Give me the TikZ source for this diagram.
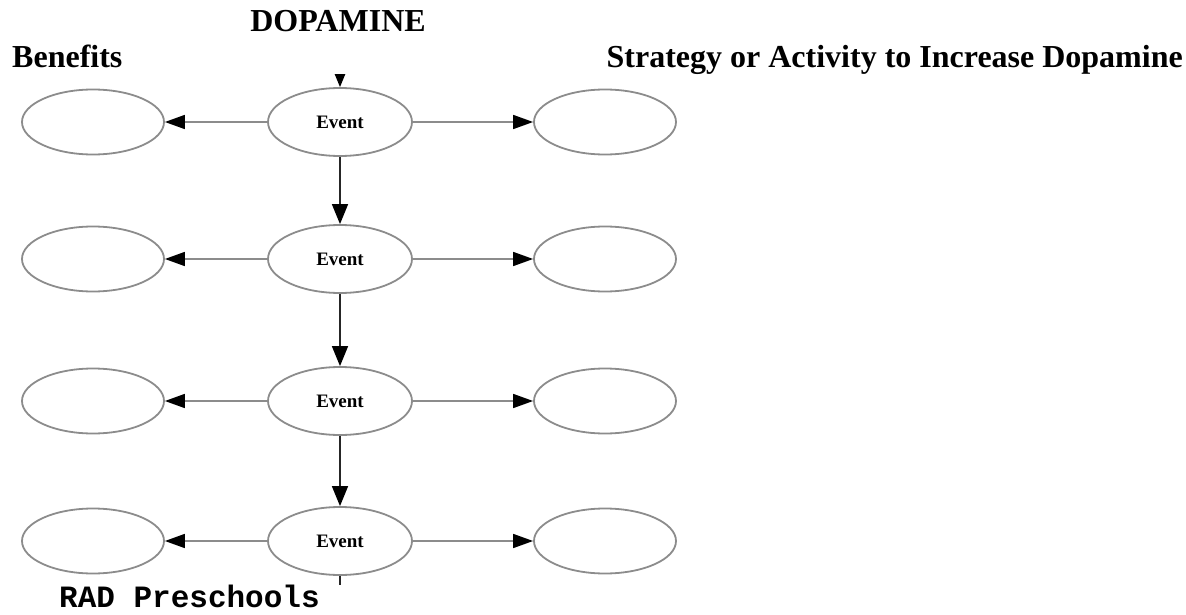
\documentclass[tikz,border=0pt]{standalone}
\usepackage{fontspec}
\setmainfont{Liberation Serif}
\setmonofont{Liberation Mono}
\usetikzlibrary{arrows.meta,shapes.geometric}

\begin{document}
\begin{tikzpicture}[x=1pt,y=-1pt,
	oval/.style={ellipse,draw=black!45,line width=1.8pt,fill=white,minimum width=142pt,minimum height=65pt,inner sep=0pt},
	event/.style={oval,minimum width=144pt,minimum height=68pt,font=\fontsize{19}{19}\selectfont\bfseries},
	side/.style={draw=black!45,line width=1.6pt,-{Triangle[length=20pt,width=14pt,color=black]}},
	down/.style={draw=black!85,line width=1.6pt,-{Triangle[length=20pt,width=16pt,color=black]}},
	head/.style={font=\fontsize{32}{32}\selectfont\bfseries,inner sep=0pt}]
	\useasboundingbox (0,0) rectangle (1186,615);
	% titles
	\node[head,anchor=base] (dopa) at (338,32) {DOPAMINE};
	\node[head,anchor=base west] (benefits) at (12,68) {Benefits};
	\node[head,anchor=base east] (strategy) at (1183,68) {Strategy or Activity to Increase Dopamine};
	% rows
	\foreach \i/\y in {1/122,2/259,3/401,4/541}
	{
		\node[event] (ev\i) at (340,\y) {Event};
		\node[oval] (ben\i) at (93,\y) {};
		\node[oval] (act\i) at (605,\y) {};
		\draw[side] (ev\i) -- (ben\i);
		\draw[side] (ev\i) -- (act\i);
	}
	\foreach \i/\j in {1/2,2/3,3/4}
	\draw[down] (ev\i) -- (ev\j);
	% cut ends
	\coordinate (top) at (340,40);
	\coordinate (bottom) at (340,585);
	\begin{scope}
		\clip (0,75) rectangle (700,585);
		\draw[down] (top) -- (ev1);
		\draw[down,-] (ev4) -- (bottom);
	\end{scope}
	\node[font=\fontsize{31}{31}\selectfont\ttfamily\bfseries,anchor=base west,inner sep=0pt] (rad) at (59,607) {RAD Preschools};
\end{tikzpicture}
\end{document}
